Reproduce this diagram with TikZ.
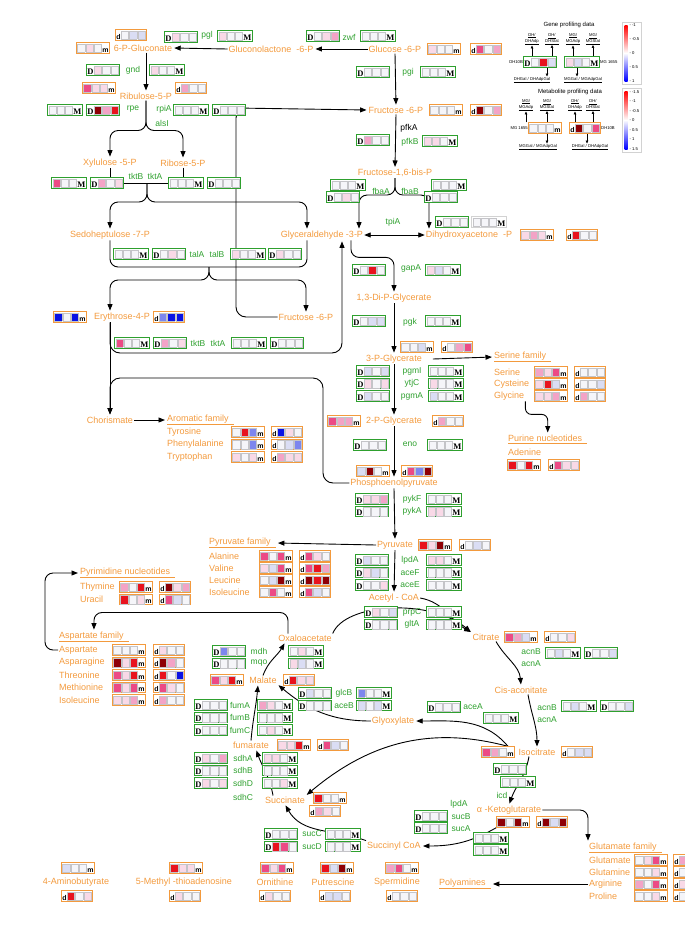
\documentclass[tikz,border=0pt]{standalone}
\usepackage{fontspec}
\setmainfont{Liberation Sans}
\newfontfamily\boxserif{Liberation Serif}
\usepackage{xcolor}
\definecolor{metc}{HTML}{F39A3D}
\definecolor{genec}{HTML}{2EA02E}
\definecolor{cellgray}{HTML}{C4C4C8}
\definecolor{cw}{HTML}{F5F5F9}
\definecolor{cp1}{HTML}{F9D9E7}
\definecolor{cp2}{HTML}{F3A3C6}
\definecolor{cp3}{HTML}{EC4A85}
\definecolor{cr}{HTML}{E8131E}
\definecolor{cdr}{HTML}{8E0006}
\definecolor{cb1}{HTML}{DADDF4}
\definecolor{cb2}{HTML}{7D86EE}
\definecolor{cb3}{HTML}{0A12E4}
\usepackage{tikz}
\usetikzlibrary{positioning,arrows.meta,backgrounds,calc}
\setlength{\fboxsep}{0pt}
\setlength{\fboxrule}{0.5pt}
\newcommand{\hcell}[1]{\fcolorbox{cellgray}{#1}{\rule{0pt}{8pt}\rule{6.8pt}{0pt}}\hspace{0.5pt}}
\newcommand{\bigD}{{\boxserif\bfseries\fontsize{8.5}{9}\selectfont D}}
\newcommand{\bigM}{{\boxserif\bfseries\fontsize{8.5}{9}\selectfont M}}
\newcommand{\smallm}{{\bfseries\fontsize{7}{8}\selectfont m}}
\newcommand{\smalld}{{\bfseries\fontsize{7}{8}\selectfont d}}
\newcommand{\dgene}[3]{\bigD\hspace{0.5pt}\hcell{#1}\hcell{#2}\hcell{#3}}
\newcommand{\mgene}[3]{\hcell{#1}\hcell{#2}\hcell{#3}\bigM}
\newcommand{\mmet}[3]{\hcell{#1}\hcell{#2}\hcell{#3}\smallm}
\newcommand{\dmet}[3]{\smalld\hspace{0.5pt}\hcell{#1}\hcell{#2}\hcell{#3}}

\begin{document}
\begin{tikzpicture}[x=1pt, y=1pt,
    met/.style={text=metc, inner sep=1pt, font=\fontsize{9}{10}\selectfont},
    fam/.style={met, anchor=west},
    enz/.style={text=genec, inner sep=1pt, font=\fontsize{8.5}{10}\selectfont},
    gbox/.style={draw=genec, line width=0.9pt, fill=white, inner sep=0.7pt},
    obox/.style={gbox, draw=metc},
    arr/.style={-{Triangle[length=6.5pt,width=5pt]}, line width=0.9pt, shorten >=1pt},
    dblarr/.style={{Triangle[length=6.5pt,width=5pt]}-{Triangle[length=6.5pt,width=5pt]}, line width=0.9pt},
    ln/.style={line width=0.9pt},
    leg/.style={font=\fontsize{4.2}{4.8}\selectfont, inner sep=0.3pt, align=center},
    legarr/.style={-{Triangle[length=2.8pt,width=2.4pt]}, line width=0.5pt},
  ]
  \useasboundingbox (0,0) rectangle (685,-930);

  % ---------- legend: gene profiling ----------
  \node[font=\fontsize{6}{7}\selectfont] (gtitle) at (569,-25) {Gene profiling data};
  \node[gbox] (lgD) at (540,-62) {\dgene{cw}{cr}{cb1}};
  \node[gbox] (lgM) at (582,-62) {\mgene{cp1}{cb1}{cw}};
  \node[leg, anchor=east] (lgdh) at (lgD.west) {DH10B};
  \node[leg, anchor=west] (lgmg) at (lgM.east) {MG 1655};
  \node[leg] (lg1) at (532,-39) {\underline{DH/}\\\underline{DHAdp}};
  \node[leg] (lg2) at (552,-39) {\underline{DH/}\\\underline{DHStat}};
  \node[leg] (lg3) at (573,-39) {\underline{MG/}\\\underline{MGAdp}};
  \node[leg] (lg4) at (593,-39) {\underline{MG/}\\\underline{MGStat}};
  \node[leg] (lg5) at (532,-80) {\underline{DHGal / DHAdpGal}};
  \node[leg] (lg6) at (583,-80) {\underline{MGGal / MGAdpGal}};
  \node[draw=gray!35, minimum width=19pt, minimum height=62pt, inner sep=0pt] (gscale) at (632,-53) {};
  \shade[top color=red, bottom color=white] (624.5,-25) rectangle (627.5,-53);
  \shade[top color=white, bottom color=blue] (624.5,-53) rectangle (627.5,-81);
  \foreach \v [count=\i] in {-1,-0.5,0,0.5,1}
    \node[leg, anchor=west] at (629,{-25-14*(\i-1)}) {- \v};

  % ---------- legend: metabolite profiling ----------
  \node[font=\fontsize{6}{7}\selectfont] (mtitle) at (570,-92) {Metabolite profiling data};
  \node[obox] (lmm) at (545,-128) {\mmet{cw}{cw}{cw}};
  \node[obox] (lmd) at (585,-128) {\dmet{cdr}{cw}{cp3}};
  \node[leg, anchor=east] (lmmg) at (lmm.west) {MG 1655};
  \node[leg, anchor=west] (lmdh) at (lmd.east) {DH10B};
  \node[leg] (lm1) at (526,-105) {\underline{MG/}\\\underline{MGAdp}};
  \node[leg] (lm2) at (547,-105) {\underline{MG/}\\\underline{MGStat}};
  \node[leg] (lm3) at (575,-105) {\underline{DH/}\\\underline{DHAdp}};
  \node[leg] (lm4) at (593,-105) {\underline{DH/}\\\underline{DHStat}};
  \node[leg] (lm5) at (538,-147) {\underline{MGGal / MGAdpGal}};
  \node[leg] (lm6) at (590,-147) {\underline{DHGal / DHAdpGal}};
  \node[draw=gray!35, minimum width=19pt, minimum height=64pt, inner sep=0pt] (mscale) at (632,-120) {};
  \shade[top color=red, bottom color=white] (624.5,-91) rectangle (627.5,-120);
  \shade[top color=white, bottom color=blue] (624.5,-120) rectangle (627.5,-149);
  \foreach \v [count=\i] in {-1.5,-1,-0.5,0,0.5,1,1.5}
    \node[leg, anchor=west] at (629,{-92-9.5*(\i-1)}) {- \v};

  % ---------- pentose phosphate pathway ----------
  \node[met] (g6p) at (395,-49) {Glucose -6-P};
  \node[obox] (g6pm) at (444,-49) {\mmet{cp1}{cw}{cw}};
  \node[obox] (g6pd) at (486,-49) {\dmet{cp3}{cw}{cp2}};
  \node[gbox] (zwfD) at (323,-36) {\dgene{cw}{cp1}{cp2}};
  \node[enz] (zwf) at (349,-37) {zwf};
  \node[gbox] (zwfM) at (378,-36) {\mgene{cw}{cw}{cw}};
  \node[met] (glcl) at (271,-49) {Gluconolactone\ \ -6-P};
  \node[gbox] (pglD) at (181,-37) {\dgene{cp1}{cw}{cw}};
  \node[enz] (pgl) at (207,-35) {pgl};
  \node[gbox] (pglM) at (235,-36) {\mgene{cp1}{cw}{cw}};
  \node[met] (g6pgn) at (143,-48) {6-P-Gluconate};
  \node[obox] (g6pgnm) at (93,-48) {\mmet{cw}{cp1}{cw}};
  \node[obox] (g6pgnd) at (131,-35) {\dmet{cw}{cb1}{cb1}};
  \node[gbox] (gndD) at (103,-70) {\dgene{cp1}{cw}{cw}};
  \node[enz] (gnd) at (133,-70) {gnd};
  \node[gbox] (gndM) at (167,-70) {\mgene{cp1}{cw}{cw}};
  \node[met] (ribu) at (146,-96) {Ribulose-5-P};
  \node[obox] (ribum) at (99,-88) {\mmet{cp3}{cp1}{cp1}};
  \node[obox] (ribud) at (191,-88) {\dmet{cp2}{cw}{cw}};
  \node[gbox] (rpeM) at (65,-110) {\mgene{cw}{cw}{cw}};
  \node[gbox] (rpeD) at (103,-110) {\dgene{cdr}{cp2}{cr}};
  \node[enz] (rpe) at (133,-109) {rpe};
  \node[enz] (rpiA) at (164,-109) {rpiA};
  \node[enz] (alsI) at (162,-123) {alsI};
  \node[gbox] (rpiM) at (191,-110) {\mgene{cw}{cw}{cw}};
  \node[gbox] (rpiD) at (229,-110) {\dgene{cw}{cw}{cw}};
  \node[met] (xyl) at (110,-163) {Xylulose -5-P};
  \node[met] (rib) at (183,-163) {Ribose-5-P};
  \node[gbox] (tk1M) at (69,-183) {\mgene{cp3}{cw}{cw}};
  \node[gbox] (tk1D) at (107,-183) {\dgene{cp2}{cw}{cp1}};
  \node[enz] (tktB) at (136,-176) {tktB};
  \node[enz] (tktA) at (155,-176) {tktA};
  \node[gbox] (tk2M) at (186,-183) {\mgene{cw}{cw}{cw}};
  \node[gbox] (tk2D) at (224,-183) {\dgene{cw}{cw}{cw}};
  \coordinate (tkjoin) at (147,-183);
  \node[met] (sedo) at (110,-235) {Sedoheptulose -7-P};
  \node[met] (gap3p) at (322,-235) {Glyceraldehyde -3-P};
  \node[gbox] (tal1M) at (131,-254) {\mgene{cw}{cw}{cw}};
  \node[gbox] (tal1D) at (169,-254) {\dgene{cw}{cp1}{cw}};
  \node[enz] (talA) at (197,-254) {talA};
  \node[enz] (talB) at (217,-254) {talB};
  \node[gbox] (tal2M) at (248,-254) {\mgene{cp1}{cw}{cw}};
  \node[gbox] (tal2D) at (285,-254) {\dgene{cp1}{cw}{cw}};
  \coordinate (taljoin) at (209,-267);
  \node[met] (ery) at (122,-317) {Erythrose-4-P};
  \node[obox] (erym) at (70,-317) {\mmet{cb3}{cw}{cb3}};
  \node[obox] (eryd) at (169,-317) {\dmet{cb2}{cb3}{cb3}};
  \node[met] (f6pb) at (306,-317) {Fructose -6-P};
  \node[gbox] (tk3M) at (132,-343) {\mgene{cp3}{cw}{cw}};
  \node[gbox] (tk3D) at (170,-343) {\dgene{cp2}{cw}{cp1}};
  \node[enz] (tktB2) at (198,-343) {tktB};
  \node[enz] (tktA2) at (218,-343) {tktA};
  \node[gbox] (tk4M) at (249,-343) {\mgene{cw}{cw}{cw}};
  \node[gbox] (tk4D) at (287,-343) {\dgene{cw}{cw}{cw}};

  % ---------- aromatic branch ----------
  \node[met] (chor) at (110,-420) {Chorismate};
  \node[fam] (aro) at (166,-420) {\underline{Aromatic family\ \ }};
  \foreach \lab/\xa/\xb/\xc/\ya/\yb/\yc [count=\i] in
    {Tyrosine/cw/cr/cb2/cb3/cp1/cw, Phenylalanine/cw/cw/cb2/cw/cb1/cb2,
     Tryptophan/cp1/cw/cp1/cp2/cp1/cp1} {
    \node[fam] (aro\i) at (166,{-419.5-12.5*\i}) {\lab};
    \node[obox] (aro\i-m) at (248,{-419.5-12.5*\i}) {\mmet{\xa}{\xb}{\xc}};
    \node[obox] (aro\i-d) at (287,{-419.5-12.5*\i}) {\dmet{\ya}{\yb}{\yc}};
  }

  % ---------- glycolysis ----------
  \node[gbox] (pgiD) at (373,-72) {\dgene{cw}{cw}{cw}};
  \node[enz] (pgi) at (408,-72) {pgi};
  \node[gbox] (pgiM) at (438,-72) {\mgene{cw}{cw}{cw}};
  \node[met] (f6p) at (396,-110) {Fructose -6-P};
  \node[obox] (f6pm) at (446,-110) {\mmet{cw}{cw}{cw}};
  \node[obox] (f6pd) at (486,-110) {\dmet{cdr}{cw}{cp2}};
  \node[inner sep=1pt, font=\fontsize{8.5}{10}\selectfont] (pfkA) at (409,-128) {pfkA};
  \node[gbox] (pfkD) at (373,-140) {\dgene{cp2}{cw}{cw}};
  \node[enz] (pfkB) at (410,-142) {pfkB};
  \node[gbox] (pfkM) at (440,-141) {\mgene{cp1}{cp1}{cw}};
  \node[met] (fbp) at (395,-173) {Fructose-1,6-bis-P};
  \node[gbox] (fba1M) at (348,-185) {\mgene{cw}{cw}{cw}};
  \node[gbox] (fba1D) at (343,-197) {\dgene{cw}{cp1}{cw}};
  \node[enz] (fbaA) at (381,-191) {fbaA};
  \node[enz] (fbaB) at (410,-191) {fbaB};
  \node[gbox] (fba2M) at (449,-185) {\mgene{cw}{cw}{cw}};
  \node[gbox] (fba2D) at (441,-197) {\dgene{cw}{cw}{cw}};
  \node[enz] (tpiA) at (393,-222) {tpiA};
  \node[gbox] (tpiD) at (452,-222) {\dgene{cw}{cw}{cw}};
  \node[gbox, draw=gray!35] (tpiM) at (489,-222) {\mgene{cw}{cw}{cw}};
  \node[met] (dhap) at (469,-235) {Dihydroxyacetone\ \ -P};
  \node[obox] (dhapm) at (537,-235) {\mmet{cp1}{cp2}{cp1}};
  \node[obox] (dhapd) at (582,-235) {\dmet{cr}{cw}{cw}};
  \node[gbox] (gapD) at (369,-270) {\dgene{cw}{cr}{cw}};
  \node[enz] (gapA) at (411,-268) {gapA};
  \node[gbox] (gapM) at (443,-270) {\mgene{cp1}{cb1}{cw}};
  \node[met] (dpg) at (394,-298) {1,3-Di-P-Glycerate};
  \node[gbox] (pgkD) at (369,-321) {\dgene{cw}{cb1}{cb1}};
  \node[enz] (pgk) at (410,-322) {pgk};
  \node[gbox] (pgkM) at (443,-321) {\mgene{cw}{cw}{cw}};
  \node[obox] (pg3m) at (417,-347) {\mmet{cw}{cw}{cb1}};
  \node[obox] (pg3d) at (457,-347) {\dmet{cw}{cp2}{cp3}};
  \node[met] (pg3) at (394,-359) {3-P-Glycerate};
  \foreach \lab/\xa/\xb/\xc/\ya/\yb/\yc [count=\i] in
    {pgmI/cb1/cw/cb1/cw/cw/cw, ytjC/cp1/cw/cp1/cp1/cw/cw, pgmA/cb1/cw/cw/cb1/cw/cw} {
    \node[gbox] (pgm\i-D) at (373,{-358.5-12.5*\i}) {\dgene{\xa}{\xb}{\xc}};
    \node[enz] (pgm\i) at (412,{-358.5-12.5*\i}) {\lab};
    \node[gbox] (pgm\i-M) at (446,{-358.5-12.5*\i}) {\mgene{\ya}{\yb}{\yc}};
  }
  \node[met] (pg2) at (394,-421) {2-P-Glycerate};
  \node[obox] (pg2m) at (344,-421) {\mmet{cp3}{cp2}{cp2}};
  \node[obox] (pg2d) at (448,-421) {\dmet{cp2}{cw}{cw}};
  \node[gbox] (enoD) at (370,-445) {\dgene{cw}{cw}{cw}};
  \node[enz] (eno) at (410,-444) {eno};
  \node[gbox] (enoM) at (445,-445) {\mgene{cw}{cw}{cw}};
  \node[obox] (pepm) at (373,-471) {\mmet{cb1}{cdr}{cw}};
  \node[obox] (pepd) at (417,-471) {\dmet{cp3}{cb2}{cdr}};
  \node[met] (pep) at (394,-483) {Phosphoenolpyruvate};
  \foreach \lab/\xa/\xb/\xc/\ya/\yb/\yc [count=\i] in
    {pykF/cp1/cp1/cp2/cw/cw/cw, pykA/cw/cw/cw/cp1/cp1/cw} {
    \node[gbox] (pyk\i-D) at (372,{-486.5-12.5*\i}) {\dgene{\xa}{\xb}{\xc}};
    \node[enz] (pyk\i) at (412,{-486.5-12.5*\i}) {\lab};
    \node[gbox] (pyk\i-M) at (444,{-486.5-12.5*\i}) {\mgene{\ya}{\yb}{\yc}};
  }
  \node[met] (pyr) at (395,-545) {Pyruvate};
  \node[obox] (pyrm) at (435,-545) {\mmet{cr}{cp1}{cdr}};
  \node[obox] (pyrd) at (475,-545) {\dmet{cw}{cb1}{cw}};

  % ---------- serine, purine ----------
  \node[fam] (serf) at (493,-357) {\underline{Serine family\ \ }};
  \foreach \lab/\xa/\xb/\xc/\ya/\yb/\yc [count=\i] in
    {Serine/cp2/cp1/cp3/cw/cw/cw, Cysteine/cp1/cr/cb1/cw/cw/cb1,
     Glycine/cp1/cp1/cp2/cp2/cw/cw} {
    \node[fam] (ser\i) at (493,{-360-12*\i}) {\lab};
    \node[obox] (ser\i-m) at (551,{-360-12*\i}) {\mmet{\xa}{\xb}{\xc}};
    \node[obox] (ser\i-d) at (590,{-360-12*\i}) {\dmet{\ya}{\yb}{\yc}};
  }
  \node[fam] (pur) at (507,-439) {\underline{Purine nucleotides\ \ }};
  \node[fam] (ade) at (507,-452) {Adenine};
  \node[obox] (adem) at (524,-465) {\mmet{cr}{cw}{cr}};
  \node[obox] (aded) at (564,-465) {\dmet{cp3}{cp1}{cp1}};

  % ---------- pyruvate family, pyrimidines, aspartate family ----------
  \node[fam] (pyrf) at (208,-543) {\underline{Pyruvate family\ \ }};
  \foreach \lab/\xa/\xb/\xc/\ya/\yb/\yc [count=\i] in
    {Alanine/cp3/cw/cp3/cp3/cp1/cw, Valine/cp1/cb1/cp3/cp3/cr/cp2,
     Leucine/cw/cb1/cdr/cdr/cr/cdr, Isoleucine/cw/cp3/cw/cp3/cb1/cw} {
    \node[fam] (pyf\i) at (208,{-544-12*\i}) {\lab};
    \node[obox] (pyf\i-m) at (276,{-544-12*\i}) {\mmet{\xa}{\xb}{\xc}};
    \node[obox] (pyf\i-d) at (315,{-544-12*\i}) {\dmet{\ya}{\yb}{\yc}};
  }
  \node[fam] (pyrim) at (79,-573) {\underline{Pyrimidine nucleotides\ \ }};
  \foreach \lab/\xa/\xb/\xc/\ya/\yb/\yc [count=\i] in
    {Thymine/cp2/cw/cr/cdr/cp1/cp2, Uracil/cr/cw/cp1/cp3/cb1/cw} {
    \node[fam] (pym\i) at (79,{-574.5-12.5*\i}) {\lab};
    \node[obox] (pym\i-m) at (136,{-574.5-12.5*\i}) {\mmet{\xa}{\xb}{\xc}};
    \node[obox] (pym\i-d) at (175,{-574.5-12.5*\i}) {\dmet{\ya}{\yb}{\yc}};
  }
  \node[fam] (aspf) at (58,-637) {\underline{Aspartate family\ \ }};
  \foreach \lab/\xa/\xb/\xc/\ya/\yb/\yc [count=\i] in
    {Aspartate/cw/cw/cw/cp1/cw/cw, Asparagine/cdr/cp1/cr/cdr/cp2/cw,
     Threonine/cp3/cp1/cr/cr/cw/cb3, Methionine/cp3/cp1/cp3/cp3/cp1/cw,
     Isoleucine/cp1/cp1/cp2/cp2/cw/cw} {
    \node[fam] (asp\i) at (58,{-637.5-12.5*\i}) {\lab};
    \node[obox] (asp\i-m) at (129,{-637.5-12.5*\i}) {\mmet{\xa}{\xb}{\xc}};
    \node[obox] (asp\i-d) at (169,{-637.5-12.5*\i}) {\dmet{\ya}{\yb}{\yc}};
  }

  % ---------- TCA cycle ----------
  \foreach \lab/\xa/\xb/\xc/\ya/\yb/\yc [count=\i] in
    {lpdA/cb1/cw/cw/cp1/cp1/cw, aceF/cp1/cb1/cw/cw/cw/cw, aceE/cw/cw/cp1/cw/cw/cw} {
    \node[gbox] (pdh\i-D) at (372,{-547.5-12.5*\i}) {\dgene{\xa}{\xb}{\xc}};
    \node[enz] (pdh\i) at (410,{-547.5-12.5*\i}) {\lab};
    \node[gbox] (pdh\i-M) at (444,{-547.5-12.5*\i}) {\mgene{\ya}{\yb}{\yc}};
  }
  \node[met] (acoa) at (394,-598) {Acetyl - CoA};
  \foreach \lab/\xa/\xb/\xc/\ya/\yb/\yc [count=\i] in
    {prpC/cp1/cw/cb1/cw/cw/cw, gltA/cw/cw/cw/cw/cw/cw} {
    \node[gbox] (cs\i-D) at (381,{-599.5-12.5*\i}) {\dgene{\xa}{\xb}{\xc}};
    \node[enz] (cs\i) at (412,{-599.5-12.5*\i}) {\lab};
    \node[gbox] (cs\i-M) at (444,{-599.5-12.5*\i}) {\mgene{\ya}{\yb}{\yc}};
  }
  \node[met] (cit) at (486,-637) {Citrate};
  \node[obox] (citm) at (521,-637) {\mmet{cp3}{cp2}{cb1}};
  \node[obox] (citd) at (560,-637) {\dmet{cw}{cw}{cp1}};
  \node[enz] (acnB) at (531,-652) {acnB};
  \node[enz] (acnA) at (531,-664) {acnA};
  \node[gbox] (acn1M) at (563,-653) {\mgene{cw}{cb1}{cw}};
  \node[gbox] (acn1D) at (601,-653) {\dgene{cw}{cw}{cb1}};
  \node[met] (cis) at (521,-690) {Cis-aconitate};
  \node[enz] (acnB2) at (547,-708) {acnB};
  \node[enz] (acnA2) at (547,-720) {acnA};
  \node[gbox] (acn2M) at (579,-706) {\mgene{cw}{cb1}{cw}};
  \node[gbox] (acn2D) at (617,-706) {\dgene{cw}{cw}{cb1}};
  \node[met] (icit) at (537,-752) {Isocitrate};
  \node[obox] (icm) at (498,-752) {\mmet{cp3}{cp2}{cw}};
  \node[obox] (icd) at (577,-752) {\dmet{cw}{cb1}{cb1}};
  \node[gbox] (aceAD) at (444,-707) {\dgene{cw}{cw}{cw}};
  \node[enz] (aceA) at (473,-707) {aceA};
  \node[gbox] (aceAM) at (501,-718) {\mgene{cw}{cw}{cw}};
  \node[gbox] (icdD) at (510,-769) {\dgene{cw}{cw}{cw}};
  \node[gbox] (icdM) at (518,-782) {\mgene{cw}{cw}{cw}};
  \node[enz] (icdl) at (502,-795) {icd};
  \node[met] (akg) at (509,-810) {α -Ketoglutarate};
  \node[obox] (akgm) at (513,-822) {\mmet{cdr}{cw}{cdr}};
  \node[obox] (akgd) at (552,-822) {\dmet{cdr}{cb1}{cdr}};
  \node[enz] (lpdA2) at (459,-804) {lpdA};
  \node[enz] (sucB) at (461,-817) {sucB};
  \node[enz] (sucA) at (461,-829) {sucA};
  \node[gbox] (sucBD) at (431,-816) {\dgene{cw}{cw}{cw}};
  \node[gbox] (sucAD) at (431,-828) {\dgene{cw}{cw}{cw}};
  \node[gbox] (sucBM) at (491,-838) {\mgene{cw}{cw}{cw}};
  \node[gbox] (sucAM) at (491,-850) {\mgene{cw}{cw}{cw}};
  \node[met] (succoa) at (394,-846) {Succinyl CoA};
  \foreach \lab/\xa/\xb/\xc/\ya/\yb/\yc [count=\i] in
    {sucC/cw/cw/cw/cw/cw/cw, sucD/cr/cp3/cw/cw/cw/cw} {
    \node[gbox] (scs\i-D) at (281,{-821.5-12.5*\i}) {\dgene{\xa}{\xb}{\xc}};
    \node[enz] (scs\i) at (312,{-821.5-12.5*\i}) {\lab};
    \node[gbox] (scs\i-M) at (343,{-821.5-12.5*\i}) {\mgene{\ya}{\yb}{\yc}};
  }
  \node[met] (succ) at (285,-800) {Succinate};
  \node[obox] (succm) at (330,-798) {\mmet{cr}{cw}{cw}};
  \node[obox] (succd) at (325,-811) {\dmet{cp2}{cp1}{cw}};
  \foreach \lab/\xa/\xb/\xc/\ya/\yb/\yc [count=\i] in
    {sdhA/cp1/cw/cp2/cp1/cp1/cw, sdhB/cw/cw/cw/cw/cw/cw, sdhD/cp1/cw/cp1/cw/cw/cp1} {
    \node[gbox] (sdh\i-D) at (211,{-745.5-12.5*\i}) {\dgene{\xa}{\xb}{\xc}};
    \node[enz] (sdh\i) at (243,{-745.5-12.5*\i}) {\lab};
    \node[gbox] (sdh\i-M) at (280,{-745.5-12.5*\i}) {\mgene{\ya}{\yb}{\yc}};
  }
  \node[enz] (sdhC) at (243,-797) {sdhC};
  \node[met] (fum) at (251,-745) {fumarate};
  \node[obox] (fumm) at (294,-745) {\mmet{cp1}{cp1}{cr}};
  \node[obox] (fumd) at (333,-745) {\dmet{cp3}{cb1}{cw}};
  \foreach \lab/\xa/\xb/\xc/\ya/\yb/\yc [count=\i] in
    {fumA/cw/cw/cw/cp2/cp1/cw, fumB/cw/cw/cw/cw/cw/cw, fumC/cw/cw/cw/cw/cp1/cw} {
    \node[gbox] (fh\i-D) at (211,{-692.5-12.5*\i}) {\dgene{\xa}{\xb}{\xc}};
    \node[enz] (fh\i) at (240,{-692.5-12.5*\i}) {\lab};
    \node[gbox] (fh\i-M) at (275,{-692.5-12.5*\i}) {\mgene{\ya}{\yb}{\yc}};
  }
  \node[met] (mal) at (263,-680) {Malate};
  \node[obox] (malm) at (227,-680) {\mmet{cp3}{cp1}{cr}};
  \node[obox] (mald) at (299,-680) {\dmet{cr}{cp1}{cp1}};
  \foreach \lab/\xa/\xb/\xc/\ya/\yb/\yc [count=\i] in
    {mdh/cb2/cw/cw/cw/cp1/cw, mqo/cw/cw/cw/cp1/cb1/cw} {
    \node[gbox] (md\i-D) at (229,{-638.5-12.5*\i}) {\dgene{\xa}{\xb}{\xc}};
    \node[enz] (md\i) at (259,{-638.5-12.5*\i}) {\lab};
    \node[gbox] (md\i-M) at (306,{-638.5-12.5*\i}) {\mgene{\ya}{\yb}{\yc}};
  }
  \node[met] (oaa) at (305,-638) {Oxaloacetate};
  \foreach \lab/\xa/\xb/\xc/\ya/\yb/\yc [count=\i] in
    {glcB/cb1/cw/cw/cb2/cw/cw, aceB/cw/cw/cw/cb1/cw/cb1} {
    \node[gbox] (ms\i-D) at (315,{-680.5-12.5*\i}) {\dgene{\xa}{\xb}{\xc}};
    \node[enz] (ms\i) at (344,{-680.5-12.5*\i}) {\lab};
    \node[gbox] (ms\i-M) at (374,{-680.5-12.5*\i}) {\mgene{\ya}{\yb}{\yc}};
  }
  \node[met] (glx) at (393,-721) {Glyoxylate};

  % ---------- glutamate family, polyamines ----------
  \node[fam] (glf) at (588,-848) {\underline{Glutamate family\ \ }};
  \foreach \lab/\xa/\xb/\xc/\ya/\yb/\yc [count=\i] in
    {Glutamate/cw/cp1/cp3/cp2/cw/cw, Glutamine/cw/cw/cp1/cw/cw/cw,
     Arginine/cp2/cw/cp3/cp1/cw/cw, Proline/cw/cw/cp1/cw/cw/cw} {
    \node[fam] (glu\i) at (588,{-848-12*\i}) {\lab};
    \node[obox] (glu\i-m) at (651,{-848-12*\i}) {\mmet{\xa}{\xb}{\xc}};
    \node[obox] (glu\i-d) at (689,{-848-12*\i}) {\dmet{\ya}{\yb}{\yc}};
  }
  \node[fam] (poly) at (438,-884) {\underline{Polyamines\ \ }};

  % ---------- other metabolites ----------
  \node[met] (gaba) at (76,-882) {4-Aminobutyrate};
  \node[obox] (gabam) at (78,-868) {\mmet{cb1}{cw}{cw}};
  \node[obox] (gabad) at (77,-896) {\dmet{cr}{cw}{cp1}};
  \node[met] (mta) at (184,-882) {5-Methyl -thioadenosine};
  \node[obox] (mtam) at (186,-868) {\mmet{cr}{cp1}{cp1}};
  \node[obox] (mtad) at (185,-896) {\dmet{cp1}{cw}{cw}};
  \node[met] (orn) at (275,-882) {Ornithine};
  \node[obox] (ornm) at (277,-868) {\mmet{cp3}{cp1}{cp3}};
  \node[obox] (ornd) at (275,-896) {\dmet{cp1}{cw}{cw}};
  \node[met] (put) at (333,-882) {Putrescine};
  \node[obox] (putm) at (337,-868) {\mmet{cr}{cb1}{cdr}};
  \node[obox] (putd) at (335,-896) {\dmet{cb1}{cb1}{cw}};
  \node[met] (spd) at (397,-882) {Spermidine};
  \node[obox] (spdm) at (402,-868) {\mmet{cp2}{cp3}{cw}};
  \node[obox] (spdd) at (402,-896) {\dmet{cw}{cw}{cw}};

  \begin{scope}[on background layer]
    % ---------- legend arrows ----------
    \draw[legarr] (lg1.south |- lgD.north) -- (lg1.south);
    \draw[legarr] (lg2.south |- lgD.north) -- (lg2.south);
    \draw[legarr] (lg3.south |- lgM.north) -- (lg3.south);
    \draw[legarr] (lg4.south |- lgM.north) -- (lg4.south);
    \draw[legarr] ([xshift=7pt]lgD.south) -- ([xshift=7pt]lgD.south |- lg5.north);
    \draw[legarr] ([xshift=-5pt]lgM.south) -- ([xshift=-5pt]lgM.south |- lg6.north);
    \draw[legarr] (lm1.south |- lmm.north) -- (lm1.south);
    \draw[legarr] (lm2.south |- lmm.north) -- (lm2.south);
    \draw[legarr] (lm3.south |- lmd.north) -- (lm3.south);
    \draw[legarr] (lm4.south |- lmd.north) -- (lm4.south);
    \draw[legarr] ([xshift=2pt]lmm.south) -- ([xshift=2pt]lmm.south |- lm5.north);
    \draw[legarr] ([xshift=2pt]lmd.south) -- ([xshift=2pt]lmd.south |- lm6.north);

    % ---------- pentose phosphate flow ----------
    \draw[arr] (g6p.west) -- (glcl.east);
    \draw[arr] (glcl.west) -- (g6pgn.east);
    \draw[arr] (ribu.north |- g6pgn.south) -- (ribu.north);
    \draw[arr, rounded corners=8pt] (ribu.south) -- ++(0,-30) -| (xyl.north);
    \draw[arr, rounded corners=8pt] (ribu.south) -- ++(0,-30) -| (rib.north);
    \draw[ln] (xyl.south) -- (xyl.south |- tk1D.north);
    \draw[ln] (rib.south) -- (rib.south |- tk2M.north);
    \draw[ln] (tk1D.east) -- (tk2M.west);
    \draw[arr, rounded corners=8pt] (tkjoin) -- ++(0,-19) -| (sedo.north);
    \draw[arr, rounded corners=8pt] (tkjoin) -- ++(0,-19) -| ([xshift=-15pt]gap3p.north);
    \draw[ln, rounded corners=8pt] (sedo.south) |- (taljoin) -| ([xshift=-15pt]gap3p.south);
    \draw[arr, rounded corners=8pt] (taljoin) -- ++(0,-13) -| ([xshift=-12pt]ery.north);
    \draw[arr, rounded corners=8pt] (taljoin) -- ++(0,-13) -| (f6pb.north);
    \draw[arr, rounded corners=10pt] (f6pb.west) -- (236,-317) -- (236,-108) -- (f6p.west);
    \draw[arr] ([xshift=-12pt]ery.south) -- (chor.north);
    \draw[arr, rounded corners=10pt] ([xshift=-12pt]ery.south) |- (342,-353)
      -- ([xshift=20pt]gap3p.south);
    \draw[arr] (chor.east) -- (aro.west);

    % ---------- glycolysis flow ----------
    \draw[arr] (g6p.south) -- (f6p.north);
    \draw[arr] (f6p.south) -- (fbp.north);
    \draw[arr, rounded corners=8pt] (fbp.south) -- ++(0,-17) -| ([xshift=37pt]gap3p.north);
    \draw[arr, rounded corners=8pt] (fbp.south) -- ++(0,-17) -| ([xshift=-40pt]dhap.north);
    \draw[dblarr] (gap3p.east) -- (dhap.west);
    \draw[arr, rounded corners=8pt] ([xshift=29pt]gap3p.south) -- ++(0,-17) -| (dpg.north);
    \draw[arr] (dpg.south) -- (pg3.north);
    \draw[arr] ([xshift=10pt]pg3.east) -- (serf.west);
    \draw[arr, rounded corners=6pt] (ser3.south east) -- ++(0,-13) -| (pur.north);
    \draw[arr] (pg3.south) -- (pg2.north);
    \draw[arr] (pg2.south) -- (pep.north);
    \draw[arr, rounded corners=10pt] (pep.west) -- (323,-483) -- (323,-378) -- (110,-378)
      -- (chor.north);
    \draw[arr] (pep.south) -- (pyr.north);
    \draw[arr] (pyr.west) -- (pyrf.east);
    \draw[arr] (pyr.south) -- (acoa.north);

    % ---------- TCA flow ----------
    \draw[arr] (acoa.east) to[out=-10, in=150] (cit.north west);
    \draw[arr] (oaa.north east) .. controls (345,-603) and (430,-598) .. (cit.north west);
    \draw[arr] ([xshift=10pt]cit.south) to[out=-60, in=95] (cis.north);
    \draw[arr] ([xshift=7pt]cis.south) to[out=-80, in=90] (icit.north);
    \draw[arr] ([xshift=10pt]icm.north) to[out=130, in=0] (glx.east);
    \draw[arr] ([xshift=10pt]icm.north) to[out=165, in=40] (succ.north east);
    \draw[arr] ([xshift=-8pt]icit.south) to[out=-100, in=70] (akg.north);
    \draw[arr, rounded corners=8pt] (akg.east) -| (glf.north west);
    \draw[arr] (akgm.south west) to[out=-150, in=0] (succoa.east);
    \draw[arr] (succoa.north west) to[out=160, in=-60] (succ.south);
    \draw[arr] ([xshift=-12pt]succ.north) to[out=100, in=-70] ([xshift=5pt]fum.south);
    \draw[arr] (fum.north) to[out=85, in=-95] ([xshift=-5pt]mal.south);
    \draw[arr] (mal.north) to[out=70, in=-120] ([xshift=-20pt]oaa.south);
    \draw[arr] (glx.west) to[out=180, in=-40] (mal.south east);
    \draw[arr, rounded corners=8pt] ([xshift=-17pt]oaa.north) -- ++(0,21) -| (aspf.north);
    \draw[arr, rounded corners=8pt] (asp1.west) -- ++(-13,0) |- (pyrim.west);
    \draw[arr] (glu3.west) -- (poly.east);
  \end{scope}

\end{tikzpicture}
\end{document}
